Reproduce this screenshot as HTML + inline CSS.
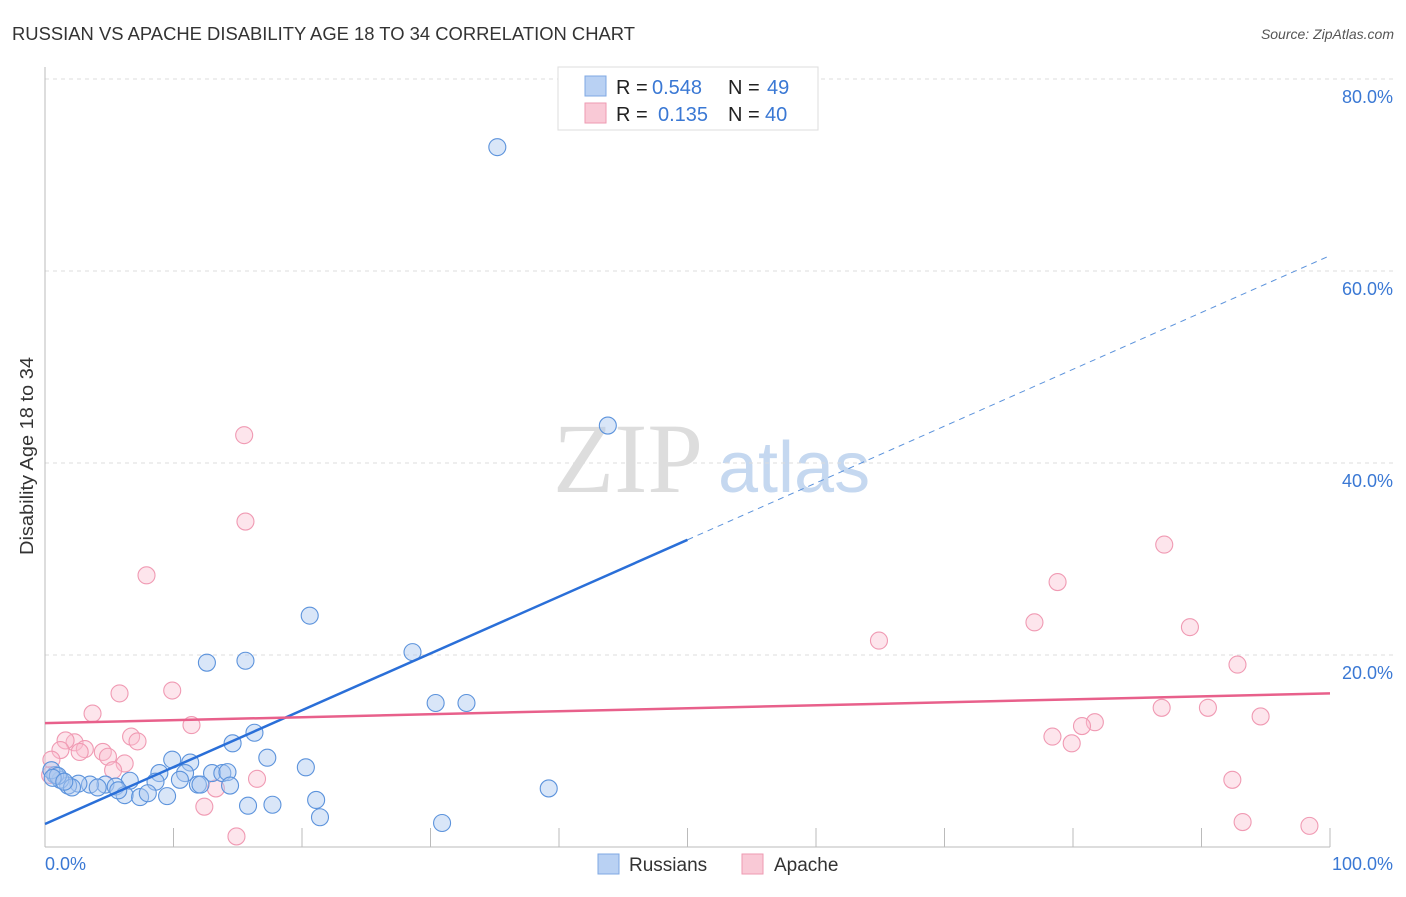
<!DOCTYPE html>
<html><head><meta charset="utf-8"><style>
body{margin:0;background:#fff;font-family:"Liberation Sans",sans-serif}
svg text{font-family:"Liberation Sans",sans-serif}
</style></head><body>
<svg width="1406" height="892">
<text x="12" y="40" font-size="18" fill="#333" textLength="623" lengthAdjust="spacingAndGlyphs">RUSSIAN VS APACHE DISABILITY AGE 18 TO 34 CORRELATION CHART</text>
<text x="1394" y="39" font-size="14" fill="#555" font-style="italic" text-anchor="end">Source: ZipAtlas.com</text>
<g>
<text x="553" y="492" font-size="100" fill="#ddd" style="font-family:'Liberation Serif',serif">ZIP</text>
<text x="718" y="492" font-size="72" fill="#c5d8f0">atlas</text>
</g>
<g id="grid"></g>
<line x1="45" y1="67" x2="45" y2="847" stroke="#bbb"/>
<line x1="45" y1="847" x2="1330" y2="847" stroke="#bbb"/>
<text transform="translate(33,456) rotate(-90)" font-size="18" fill="#333" text-anchor="middle" textLength="198" lengthAdjust="spacingAndGlyphs">Disability Age 18 to 34</text>
<text x="45" y="870" font-size="18" fill="#3a78d4">0.0%</text>
<text x="1393" y="870" font-size="18" fill="#3a78d4" text-anchor="end">100.0%</text>
<g id="pts"></g>
<g id="lines"></g>
<g>
<rect x="558" y="67" width="260" height="63" fill="#fff" stroke="#ddd"/>
<rect x="585" y="76" width="21" height="20" fill="#b9d1f3" stroke="#7fa8e3"/>
<rect x="585" y="103" width="21" height="20" fill="#f9c9d6" stroke="#ee9ab2"/>
<text x="616" y="94" font-size="20" fill="#222">R = <tspan fill="#3a78d4" x="652">0.548</tspan><tspan x="728">N = </tspan><tspan fill="#3a78d4" x="767">49</tspan></text>
<text x="616" y="121" font-size="20" fill="#222">R = <tspan fill="#3a78d4" x="658">0.135</tspan><tspan x="728">N = </tspan><tspan fill="#3a78d4" x="765">40</tspan></text>
</g>
<g>
<rect x="598" y="854" width="21" height="20" fill="#b9d1f3" stroke="#7fa8e3"/>
<text x="629" y="871" font-size="19" fill="#333">Russians</text>
<rect x="742" y="854" width="21" height="20" fill="#f9c9d6" stroke="#ee9ab2"/>
<text x="774" y="871" font-size="19" fill="#333">Apache</text>
</g>
</svg>
<script>
const yTicks=[20,40,60,80];
const xTicks=[10,20,30,40,50,60,70,80,90,100];
const russX=[35.2,43.8,20.6,28.6,12.6,15.6,30.4,32.8,16.3,14.6,17.3,9.9,11.3,20.3,8.9,10.9,13.0,13.8,14.2,10.5,8.6,6.6,11.9,14.4,39.2,4.7,5.5,3.5,2.6,1.8,1.2,0.8,0.5,6.2,7.4,8.0,9.5,15.8,17.7,21.1,21.4,30.9,2.1,4.1,1.0,12.1,5.7,0.6,1.5];
const russY=[72.9,43.9,24.1,20.3,19.2,19.4,15.0,15.0,11.9,10.8,9.3,9.1,8.8,8.3,7.7,7.7,7.7,7.7,7.8,7.0,6.8,6.9,6.5,6.4,6.1,6.5,6.3,6.5,6.6,6.4,7.0,7.5,8.0,5.4,5.2,5.6,5.3,4.3,4.4,4.9,3.1,2.5,6.2,6.2,7.4,6.5,5.9,7.2,6.8];
const apaX=[15.5,15.6,7.9,87.1,78.8,77.0,89.1,64.9,92.8,5.8,9.9,3.7,11.4,86.9,90.5,94.6,81.7,80.7,78.4,79.9,2.3,1.6,1.2,3.1,4.5,2.7,4.9,6.7,7.2,6.2,5.3,16.5,13.3,12.4,14.9,92.4,93.2,98.4,0.4,0.5];
const apaY=[42.9,33.9,28.3,31.5,27.6,23.4,22.9,21.5,19.0,16.0,16.3,13.9,12.7,14.5,14.5,13.6,13.0,12.6,11.5,10.8,10.9,11.1,10.1,10.2,9.9,9.9,9.4,11.5,11.0,8.7,8.0,7.1,6.1,4.2,1.1,7.0,2.6,2.2,7.5,9.1];
const russFit=[2.4,61.6];
const apaFit=[12.9,16.0];
const sx=v=>45+v*12.85, sy=v=>847-v*9.6;
const NS="http://www.w3.org/2000/svg";
function mk(t,a,p){const e=document.createElementNS(NS,t);for(const k in a)e.setAttribute(k,a[k]);p.appendChild(e);return e;}
const grid=document.getElementById('grid');
yTicks.forEach(v=>{
 const l=mk('line',{x1:45,x2:1393,y1:sy(v),y2:sy(v),stroke:'#ddd','stroke-dasharray':'4,4'},grid);
 
 
 const t=mk('text',{x:1393,y:sy(v)+24,'font-size':18,fill:'#3a78d4','text-anchor':'end'},grid);
 t.textContent=v.toFixed(1)+'%';
 
 
});
xTicks.forEach(v=>{
 const l=mk('line',{x1:sx(v),x2:sx(v),y1:828,y2:847,stroke:'#bbb'},grid);
 
 
});
const pts=document.getElementById('pts');
apaX.forEach((x,i)=>{
 const c=mk('circle',{cx:sx(x),cy:sy(apaY[i]),r:8.5,fill:'rgba(249,190,207,0.4)',stroke:'#f09ab3','stroke-width':1.1},pts);
 
 
});
russX.forEach((x,i)=>{
 const c=mk('circle',{cx:sx(x),cy:sy(russY[i]),r:8.5,fill:'rgba(170,200,240,0.45)',stroke:'#5c93dc','stroke-width':1.1},pts);
 
 
});
const ln=document.getElementById('lines');
const yr=x=>russFit[0]+(russFit[1]-russFit[0])*x/100;
let a=mk('line',{x1:sx(0),y1:sy(yr(0)),x2:sx(50),y2:sy(yr(50)),stroke:'#2a6fd8','stroke-width':2.5},ln);


let b=mk('line',{x1:sx(50),y1:sy(yr(50)),x2:sx(100),y2:sy(yr(100)),stroke:'#5c93dc','stroke-width':1,'stroke-dasharray':'6,5'},ln);


let c=mk('line',{x1:sx(0),y1:sy(apaFit[0]),x2:sx(100),y2:sy(apaFit[1]),stroke:'#e8608b','stroke-width':2.5},ln);


</script>
</body></html>
